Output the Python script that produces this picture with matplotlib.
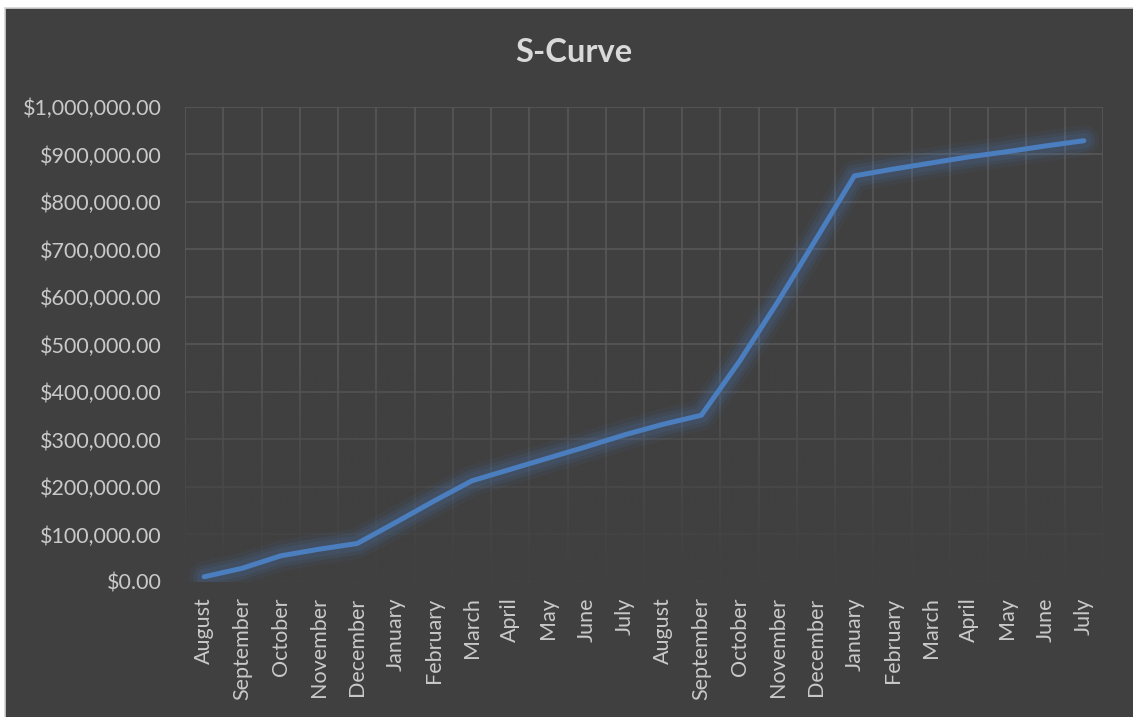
import numpy as np
import matplotlib
matplotlib.use("Agg")
import matplotlib.pyplot as plt
from matplotlib.patches import Rectangle
from matplotlib.ticker import FuncFormatter

# cumulative cost per month over two years
months = ["August", "September", "October", "November", "December",
          "January", "February", "March", "April", "May", "June", "July",
          "August", "September", "October", "November", "December",
          "January", "February", "March", "April", "May", "June", "July"]
cumulative = [11000, 29000, 55000, 69000, 81000,
              125000, 170000, 213000, 237000, 261000, 285000, 310000,
              332000, 351000, 465000, 590000, 722000,
              855000, 869000, 882000, 895000, 906000, 918000, 929000]
yticks = np.arange(0, 1000001, 100000)

BG = "#404040"
GRID = "#5a5a5a"
TXT = "#c9c9c9"
BLUE = "#4a7ebf"

plt.rcParams['font.family'] = ['Lato', 'DejaVu Sans']

fig = plt.figure(figsize=(11.33, 7.17), dpi=100)
fig.patch.set_facecolor("white")
fig.add_artist(Rectangle((5 / 1133, -0.01), 1.0, 1 - 8 / 717 + 0.01,
                         transform=fig.transFigure, facecolor=BG,
                         edgecolor="#d4d4d4", lw=1.2, zorder=-1))

ax = fig.add_axes([0.1633, 0.1883, 0.9735 - 0.1633, 0.8508 - 0.1883])
ax.set_facecolor(BG)

x = np.arange(len(months))

# gridlines at category boundaries and every 100k
ax.set_xlim(-0.5, len(months) - 0.5)
ax.set_ylim(0, 1000000)
ax.set_xticks(x)
ax.set_xticks(np.arange(-0.5, len(months), 1), minor=True)
ax.set_yticks(yticks)
ax.set_axisbelow(True)
ax.grid(which="minor", axis="x", color=GRID, lw=1.1)
ax.grid(which="major", axis="y", color=GRID, lw=1.1)
ax.tick_params(which="both", length=0)
for s in ax.spines.values():
    s.set_visible(False)

# gridlines fade out toward the bottom of the plot area
fade = np.zeros((200, 2, 4))
fade[..., :3] = matplotlib.colors.to_rgb(BG)
t = np.linspace(1, 0, 200)  # row 0 = top
alpha = np.clip((0.45 - t) / 0.42, 0, 1) ** 0.8 * 0.95
fade[..., 3] = alpha[:, None]
ax.imshow(fade, extent=(0, 1, 0, 1), transform=ax.transAxes,
          aspect="auto", zorder=1, interpolation="bilinear")

# soft glow under the curve
for w, a in [(22, 0.08), (16, 0.10), (11, 0.13)]:
    ax.plot(x, cumulative, color=BLUE, lw=w, alpha=a,
            solid_capstyle="round", solid_joinstyle="round", zorder=2)
ax.plot(x, cumulative, color=BLUE, lw=3.6,
        solid_capstyle="round", solid_joinstyle="round", zorder=3)

ax.yaxis.set_major_formatter(FuncFormatter(lambda v, p: "${:,.2f}".format(v)))
ax.set_xticklabels(months, rotation=90, ha="center", va="top")
ax.tick_params(axis="y", labelsize=15.5, labelcolor=TXT, pad=17)
ax.tick_params(axis="x", labelsize=15.5, labelcolor=TXT, pad=11)

fig.text(0.506, 0.927, "S-Curve", ha="center", va="center",
         fontsize=23.5, fontweight="bold", color="#d9d9d9")

fig.savefig("out.png", dpi=100, facecolor=fig.get_facecolor())
